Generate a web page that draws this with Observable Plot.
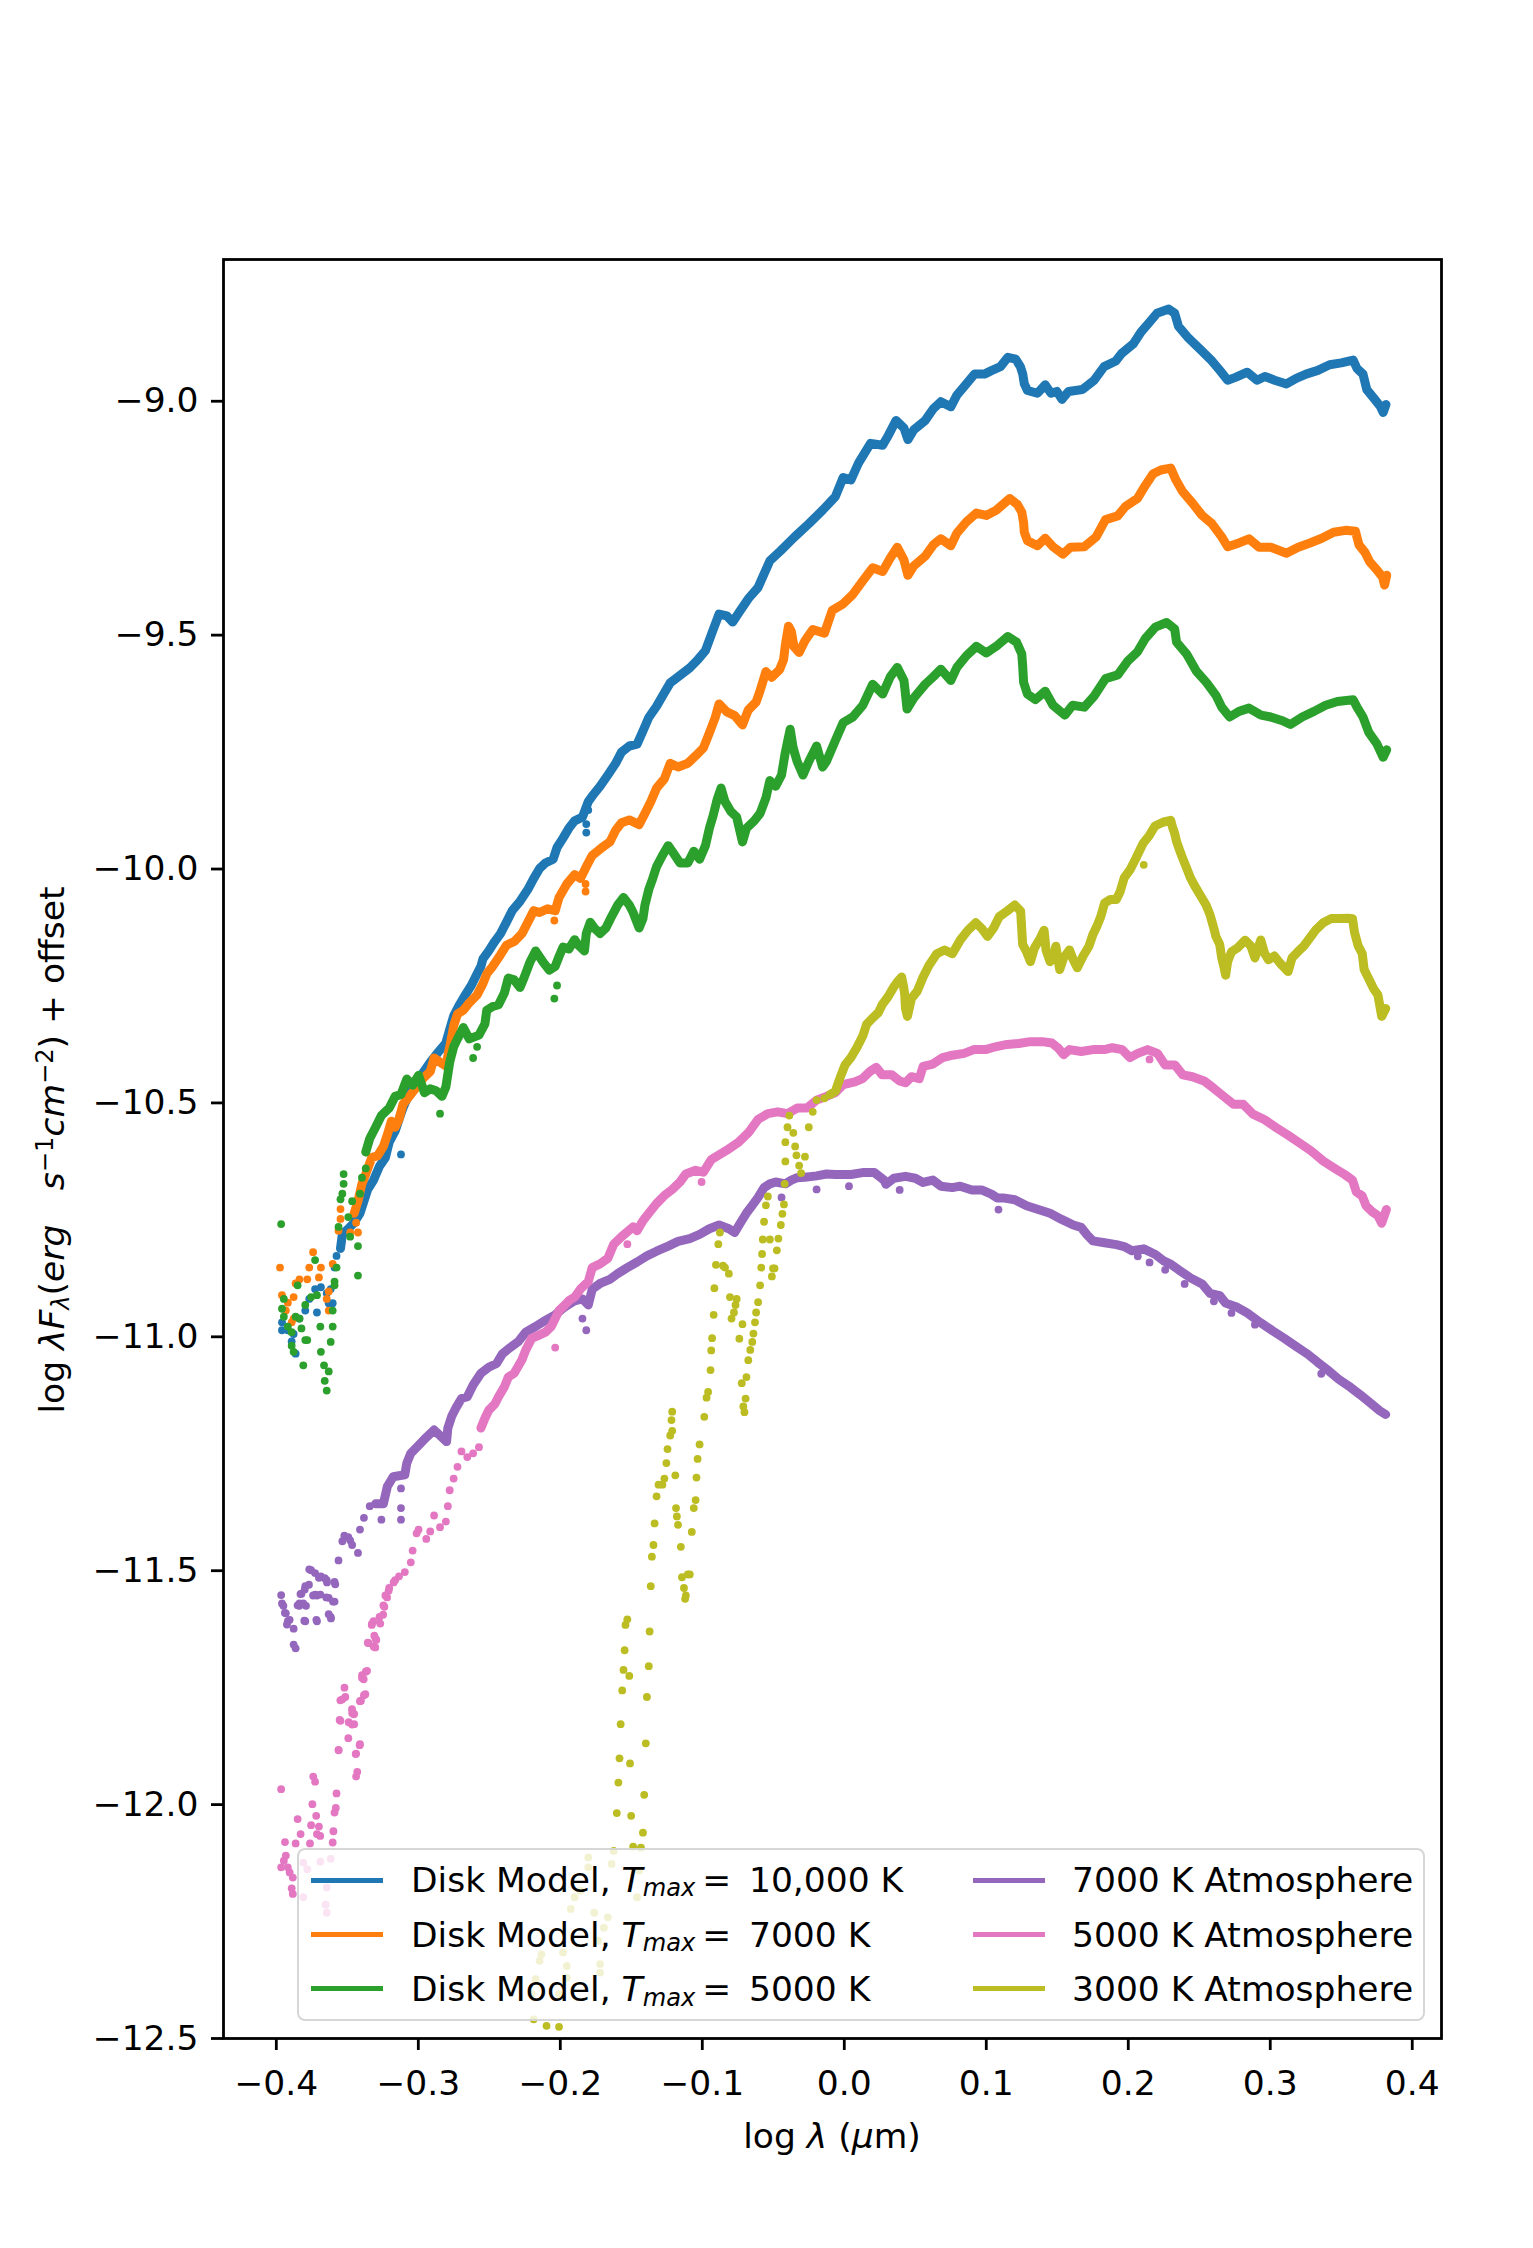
<!DOCTYPE html>
<html><head><meta charset="utf-8">
<script src="https://cdn.jsdelivr.net/npm/d3@7"></script>
<script src="https://cdn.jsdelivr.net/npm/@observablehq/plot@0.6"></script>
<style>
html,body{margin:0;padding:0;background:#fff;}
#wrap{position:relative;width:1533px;height:2248px;font-family:"DejaVu Sans",sans-serif;color:#000;overflow:hidden;}
#wrap svg{position:absolute;left:0;top:0;}
.lbl{position:absolute;font-size:34.5px;line-height:40px;white-space:nowrap;text-align:center;}
.sub{font-size:0.7em;position:relative;top:0.2em;}
.sup{font-size:0.7em;position:relative;top:-0.45em;}
#legend{position:absolute;left:297px;top:1848px;width:1128px;height:173px;box-sizing:border-box;
  background:rgba(255,255,255,0.8);border:2.6px solid rgba(204,204,204,0.8);border-radius:8px;}
.lh{position:absolute;height:5px;width:72px;}
.lt{position:absolute;font-size:34.5px;line-height:40px;white-space:nowrap;}
</style></head><body><div id="wrap"></div>
<script>
// ---- tick values ----
const xTicks = [-0.4,-0.3,-0.2,-0.1,0.0,0.1,0.2,0.3,0.4];
const yTicks = [-12.5,-12.0,-11.5,-11.0,-10.5,-10.0,-9.5,-9.0];
// ---- series names and colours ----
const seriesNames = ["Disk Model, Tmax = 10,000 K","Disk Model, Tmax = 7000 K","Disk Model, Tmax = 5000 K","7000 K Atmosphere","5000 K Atmosphere","3000 K Atmosphere"];
const seriesColors = ["#1f77b4","#ff7f0e","#2ca02c","#9467bd","#e377c2","#bcbd22"];

// ---- Disk Model, Tmax = 10,000 K ----
const blueTrace = [[-0.3548,-10.811],[-0.3535,-10.781],[-0.3493,-10.769],[-0.3452,-10.756],[-0.3411,-10.736],[-0.3383,-10.710],[-0.3356,-10.685],[-0.3315,-10.665],[-0.3273,-10.635],[-0.3232,-10.617],[-0.3205,-10.584],[-0.3163,-10.560],[-0.3136,-10.535],[-0.3108,-10.511],[-0.3067,-10.482],[-0.3026,-10.458],[-0.2971,-10.437],[-0.2916,-10.413],[-0.2861,-10.392],[-0.2806,-10.372],[-0.2779,-10.343],[-0.2751,-10.314],[-0.2710,-10.290],[-0.2669,-10.269],[-0.2627,-10.249],[-0.2586,-10.224],[-0.2559,-10.208],[-0.2545,-10.192],[-0.2504,-10.175],[-0.2462,-10.155],[-0.2421,-10.138],[-0.2380,-10.114],[-0.2339,-10.089],[-0.2284,-10.069],[-0.2229,-10.044],[-0.2187,-10.020],[-0.2146,-9.999],[-0.2105,-9.987],[-0.2050,-9.979],[-0.2023,-9.954],[-0.1981,-9.934],[-0.1940,-9.913],[-0.1899,-9.897],[-0.1844,-9.889],[-0.1803,-9.856],[-0.1775,-9.844],[-0.1720,-9.823],[-0.1665,-9.799],[-0.1610,-9.774],[-0.1569,-9.750],[-0.1514,-9.737],[-0.1459,-9.733],[-0.1418,-9.705],[-0.1377,-9.676],[-0.1322,-9.652],[-0.1267,-9.623],[-0.1226,-9.602],[-0.1157,-9.586],[-0.1088,-9.570],[-0.1033,-9.553],[-0.0978,-9.533],[-0.0923,-9.488],[-0.0882,-9.455],[-0.0827,-9.459],[-0.0786,-9.472],[-0.0731,-9.447],[-0.0676,-9.422],[-0.0607,-9.398],[-0.0524,-9.341],[-0.045,-9.320],[-0.035,-9.290],[-0.025,-9.262],[-0.015,-9.232],[-0.0063,-9.204],[-0.0008,-9.163],[0.0047,-9.168],[0.0102,-9.131],[0.0185,-9.090],[0.027,-9.094],[0.031,-9.073],[0.0365,-9.041],[0.042,-9.057],[0.0448,-9.082],[0.049,-9.061],[0.057,-9.041],[0.0627,-9.016],[0.068,-9.001],[0.075,-9.012],[0.0793,-8.987],[0.0848,-8.967],[0.0917,-8.942],[0.0987,-8.942],[0.104,-8.934],[0.110,-8.926],[0.1152,-8.906],[0.1207,-8.910],[0.124,-8.926],[0.1257,-8.942],[0.1268,-8.963],[0.129,-8.977],[0.136,-8.983],[0.1415,-8.965],[0.1456,-8.983],[0.1497,-8.979],[0.1533,-8.996],[0.158,-8.979],[0.1677,-8.975],[0.176,-8.955],[0.183,-8.926],[0.1912,-8.914],[0.1953,-8.898],[0.2036,-8.877],[0.209,-8.852],[0.2147,-8.832],[0.2202,-8.812],[0.2285,-8.803],[0.2327,-8.812],[0.2354,-8.840],[0.2424,-8.865],[0.2506,-8.889],[0.259,-8.914],[0.2645,-8.934],[0.270,-8.955],[0.2755,-8.949],[0.2838,-8.938],[0.2907,-8.955],[0.2962,-8.947],[0.3031,-8.955],[0.3114,-8.963],[0.3183,-8.951],[0.3252,-8.942],[0.3335,-8.934],[0.3418,-8.922],[0.350,-8.918],[0.3584,-8.912],[0.3611,-8.930],[0.3653,-8.942],[0.368,-8.975],[0.3736,-8.996],[0.3777,-9.012],[0.3795,-9.024],[0.3815,-9.007]];
const blueScatter = [[-0.1803,-9.874],[-0.1817,-9.904],[-0.1817,-9.922],[-0.3122,-10.610],[-0.3576,-10.827],[-0.3590,-10.852],[-0.3617,-10.898],[-0.3631,-10.928],[-0.3603,-10.928],[-0.3645,-10.907],[-0.3686,-10.894],[-0.3714,-10.948],[-0.3727,-10.898],[-0.3768,-10.919],[-0.3796,-10.944],[-0.3837,-10.961],[-0.3878,-10.994],[-0.3919,-10.986],[-0.3960,-10.969],[-0.3960,-10.986],[-0.3864,-11.036],[-0.3892,-11.010]];

// ---- Disk Model, Tmax = 7000 K ----
const orangeTrace = [[-0.3452,-10.736],[-0.3425,-10.710],[-0.3397,-10.673],[-0.3370,-10.652],[-0.3328,-10.617],[-0.3287,-10.613],[-0.3246,-10.593],[-0.3218,-10.568],[-0.3190,-10.539],[-0.3163,-10.552],[-0.3136,-10.535],[-0.3108,-10.503],[-0.3053,-10.482],[-0.3012,-10.466],[-0.2971,-10.449],[-0.2916,-10.433],[-0.2889,-10.404],[-0.2847,-10.413],[-0.2806,-10.421],[-0.2765,-10.359],[-0.2751,-10.335],[-0.2724,-10.310],[-0.2683,-10.302],[-0.2641,-10.286],[-0.2586,-10.269],[-0.2545,-10.245],[-0.2518,-10.224],[-0.2476,-10.208],[-0.2421,-10.183],[-0.2380,-10.163],[-0.2325,-10.155],[-0.2270,-10.138],[-0.2229,-10.114],[-0.2187,-10.089],[-0.2146,-10.093],[-0.2090,-10.085],[-0.2036,-10.089],[-0.2009,-10.061],[-0.1954,-10.032],[-0.1899,-10.012],[-0.1858,-10.020],[-0.1817,-9.995],[-0.1775,-9.971],[-0.1706,-9.954],[-0.1651,-9.942],[-0.1610,-9.917],[-0.1569,-9.901],[-0.1514,-9.895],[-0.1445,-9.905],[-0.1404,-9.881],[-0.1363,-9.856],[-0.1322,-9.827],[-0.1267,-9.807],[-0.1226,-9.774],[-0.1170,-9.782],[-0.1102,-9.774],[-0.1047,-9.758],[-0.0992,-9.741],[-0.0950,-9.709],[-0.0909,-9.676],[-0.0882,-9.647],[-0.0827,-9.664],[-0.0772,-9.672],[-0.0717,-9.692],[-0.0676,-9.660],[-0.0621,-9.643],[-0.0593,-9.619],[-0.0552,-9.578],[-0.0511,-9.590],[-0.0456,-9.574],[-0.0428,-9.553],[-0.0415,-9.521],[-0.0393,-9.481],[-0.0373,-9.492],[-0.0354,-9.525],[-0.0318,-9.537],[-0.0277,-9.512],[-0.0222,-9.488],[-0.0140,-9.496],[-0.0085,-9.447],[-0.0008,-9.433],[0.006,-9.413],[0.013,-9.384],[0.020,-9.356],[0.027,-9.364],[0.0324,-9.335],[0.0373,-9.312],[0.042,-9.339],[0.0448,-9.372],[0.049,-9.352],[0.057,-9.331],[0.0627,-9.307],[0.068,-9.294],[0.075,-9.309],[0.0793,-9.282],[0.086,-9.258],[0.093,-9.239],[0.100,-9.244],[0.107,-9.233],[0.1166,-9.208],[0.122,-9.221],[0.125,-9.237],[0.1263,-9.260],[0.1268,-9.280],[0.129,-9.298],[0.136,-9.309],[0.1415,-9.293],[0.147,-9.311],[0.154,-9.327],[0.1594,-9.312],[0.169,-9.311],[0.1774,-9.290],[0.184,-9.253],[0.1926,-9.245],[0.198,-9.225],[0.2064,-9.208],[0.212,-9.180],[0.2175,-9.155],[0.223,-9.147],[0.2299,-9.143],[0.2335,-9.168],[0.238,-9.192],[0.245,-9.217],[0.252,-9.244],[0.259,-9.262],[0.2658,-9.290],[0.270,-9.311],[0.278,-9.303],[0.285,-9.294],[0.2921,-9.312],[0.3003,-9.312],[0.3114,-9.325],[0.3197,-9.312],[0.328,-9.303],[0.3363,-9.293],[0.3446,-9.280],[0.353,-9.276],[0.360,-9.278],[0.3625,-9.307],[0.3667,-9.323],[0.370,-9.343],[0.375,-9.360],[0.3791,-9.376],[0.3805,-9.393],[0.3820,-9.372]];
const orangeScatter = [[-0.1822,-10.032],[-0.1822,-10.048],[-0.2042,-10.110],[-0.3438,-10.756],[-0.3425,-10.777],[-0.3480,-10.777],[-0.3548,-10.727],[-0.3548,-10.748],[-0.3562,-10.773],[-0.3603,-10.844],[-0.3631,-10.903],[-0.3645,-10.919],[-0.3631,-10.944],[-0.3686,-10.852],[-0.3700,-10.873],[-0.3741,-10.819],[-0.3768,-10.852],[-0.3782,-10.877],[-0.3837,-10.877],[-0.3864,-10.886],[-0.3878,-10.915],[-0.3919,-10.927],[-0.3933,-10.944],[-0.3960,-10.911],[-0.3974,-10.852],[-0.3892,-10.969],[-0.3878,-10.961]];

// ---- Disk Model, Tmax = 5000 K ----
const greenTrace = [[-0.3370,-10.605],[-0.3342,-10.576],[-0.3301,-10.552],[-0.3260,-10.527],[-0.3205,-10.511],[-0.3163,-10.486],[-0.3122,-10.482],[-0.3081,-10.449],[-0.3040,-10.462],[-0.2998,-10.441],[-0.2957,-10.478],[-0.2916,-10.470],[-0.2875,-10.474],[-0.2834,-10.486],[-0.2806,-10.466],[-0.2779,-10.413],[-0.2751,-10.380],[-0.2724,-10.363],[-0.2683,-10.339],[-0.2641,-10.363],[-0.2573,-10.355],[-0.2531,-10.331],[-0.2518,-10.302],[-0.2476,-10.294],[-0.2435,-10.290],[-0.2394,-10.265],[-0.2366,-10.233],[-0.2325,-10.237],[-0.2284,-10.253],[-0.2256,-10.233],[-0.2215,-10.200],[-0.2174,-10.175],[-0.2119,-10.200],[-0.2078,-10.216],[-0.2036,-10.208],[-0.2009,-10.187],[-0.1981,-10.167],[-0.1940,-10.171],[-0.1899,-10.151],[-0.1872,-10.163],[-0.1830,-10.175],[-0.1817,-10.138],[-0.1789,-10.114],[-0.1761,-10.126],[-0.1720,-10.138],[-0.1679,-10.126],[-0.1638,-10.101],[-0.1596,-10.077],[-0.1555,-10.061],[-0.1514,-10.077],[-0.1487,-10.093],[-0.1445,-10.126],[-0.1418,-10.106],[-0.1404,-10.077],[-0.1377,-10.044],[-0.1349,-10.020],[-0.1322,-9.995],[-0.1281,-9.971],[-0.1240,-9.950],[-0.1212,-9.962],[-0.1157,-9.987],[-0.1102,-9.987],[-0.1060,-9.962],[-0.1019,-9.979],[-0.0978,-9.950],[-0.0950,-9.913],[-0.0923,-9.885],[-0.0896,-9.852],[-0.0868,-9.827],[-0.0840,-9.856],[-0.0799,-9.877],[-0.0758,-9.889],[-0.0717,-9.942],[-0.0689,-9.913],[-0.0634,-9.897],[-0.0593,-9.881],[-0.0552,-9.848],[-0.0524,-9.811],[-0.0483,-9.823],[-0.0442,-9.799],[-0.0415,-9.750],[-0.0381,-9.701],[-0.0360,-9.741],[-0.0332,-9.770],[-0.0291,-9.799],[-0.0250,-9.770],[-0.0195,-9.737],[-0.0153,-9.782],[-0.0126,-9.770],[-0.0063,-9.725],[-0.0008,-9.687],[0.006,-9.675],[0.013,-9.650],[0.020,-9.605],[0.027,-9.626],[0.0324,-9.589],[0.0373,-9.569],[0.042,-9.597],[0.0428,-9.618],[0.0442,-9.658],[0.049,-9.634],[0.057,-9.605],[0.0627,-9.589],[0.068,-9.573],[0.075,-9.597],[0.0793,-9.569],[0.086,-9.544],[0.093,-9.524],[0.100,-9.538],[0.107,-9.524],[0.1152,-9.503],[0.1213,-9.515],[0.125,-9.540],[0.1257,-9.569],[0.1263,-9.601],[0.129,-9.626],[0.1346,-9.638],[0.1415,-9.620],[0.147,-9.650],[0.1553,-9.671],[0.1608,-9.650],[0.169,-9.654],[0.176,-9.630],[0.184,-9.593],[0.1926,-9.585],[0.1995,-9.556],[0.2064,-9.536],[0.212,-9.507],[0.219,-9.483],[0.227,-9.473],[0.2327,-9.487],[0.234,-9.515],[0.241,-9.540],[0.248,-9.577],[0.255,-9.601],[0.262,-9.630],[0.2658,-9.654],[0.2714,-9.675],[0.278,-9.663],[0.285,-9.656],[0.2935,-9.671],[0.3003,-9.675],[0.3086,-9.683],[0.3142,-9.691],[0.3225,-9.675],[0.3308,-9.663],[0.339,-9.650],[0.3473,-9.642],[0.3584,-9.638],[0.3611,-9.654],[0.3653,-9.675],[0.3694,-9.708],[0.375,-9.732],[0.3795,-9.761],[0.3820,-9.745]];
const greenScatter = [[-0.2023,-10.249],[-0.2042,-10.277],[-0.2586,-10.380],[-0.2614,-10.404],[-0.2792,-10.429],[-0.2847,-10.523],[-0.3370,-10.640],[-0.3397,-10.660],[-0.3411,-10.694],[-0.3466,-10.710],[-0.3493,-10.744],[-0.3480,-10.786],[-0.3425,-10.806],[-0.3425,-10.869],[-0.3526,-10.652],[-0.3526,-10.673],[-0.3535,-10.694],[-0.3548,-10.706],[-0.3562,-10.765],[-0.3576,-10.852],[-0.3590,-10.882],[-0.3590,-10.890],[-0.3603,-10.944],[-0.3603,-10.978],[-0.3617,-11.011],[-0.3631,-11.074],[-0.3645,-11.115],[-0.3659,-11.094],[-0.3664,-11.061],[-0.3686,-11.032],[-0.3690,-10.978],[-0.3714,-10.911],[-0.3727,-10.836],[-0.3755,-10.915],[-0.3782,-11.007],[-0.3796,-11.007],[-0.3810,-11.061],[-0.3823,-10.982],[-0.3837,-10.961],[-0.3850,-10.890],[-0.3864,-10.957],[-0.3892,-10.990],[-0.3892,-11.019],[-0.3878,-11.032],[-0.3919,-10.978],[-0.3947,-10.919],[-0.3960,-10.940],[-0.3947,-10.957],[-0.3966,-10.759],[-0.3796,-10.932]];

// ---- 7000 K Atmosphere ----
const purpleTrace = [[-0.3301,-11.357],[-0.3246,-11.357],[-0.3218,-11.320],[-0.3177,-11.299],[-0.3095,-11.295],[-0.3081,-11.270],[-0.3053,-11.249],[-0.2998,-11.232],[-0.2944,-11.215],[-0.2889,-11.199],[-0.2847,-11.211],[-0.2801,-11.224],[-0.2792,-11.195],[-0.2765,-11.170],[-0.2737,-11.153],[-0.2696,-11.132],[-0.2655,-11.128],[-0.2614,-11.103],[-0.2559,-11.078],[-0.2504,-11.065],[-0.2449,-11.057],[-0.2407,-11.036],[-0.2353,-11.023],[-0.2298,-11.011],[-0.2243,-10.990],[-0.2174,-10.978],[-0.2105,-10.965],[-0.2036,-10.953],[-0.1968,-10.936],[-0.1899,-10.923],[-0.1844,-10.919],[-0.1803,-10.932],[-0.1775,-10.898],[-0.1720,-10.886],[-0.1651,-10.877],[-0.1596,-10.865],[-0.1528,-10.852],[-0.1459,-10.840],[-0.1390,-10.827],[-0.1322,-10.817],[-0.1240,-10.806],[-0.1171,-10.796],[-0.1088,-10.790],[-0.1019,-10.781],[-0.0950,-10.769],[-0.0882,-10.761],[-0.0813,-10.769],[-0.0772,-10.777],[-0.0731,-10.756],[-0.0690,-10.736],[-0.0648,-10.719],[-0.0607,-10.702],[-0.0565,-10.681],[-0.0524,-10.673],[-0.0483,-10.669],[-0.0415,-10.673],[-0.0373,-10.665],[-0.0332,-10.660],[-0.0277,-10.659],[-0.0195,-10.656],[-0.0126,-10.652],[-0.0063,-10.653],[0.0047,-10.653],[0.0129,-10.649],[0.0212,-10.649],[0.0280,-10.665],[0.0294,-10.674],[0.0349,-10.661],[0.0431,-10.657],[0.0500,-10.661],[0.0555,-10.670],[0.0624,-10.665],[0.0680,-10.678],[0.0761,-10.681],[0.0816,-10.678],[0.0899,-10.686],[0.0967,-10.686],[0.1036,-10.695],[0.1077,-10.703],[0.1119,-10.703],[0.1201,-10.707],[0.1284,-10.720],[0.1366,-10.728],[0.1449,-10.736],[0.1531,-10.749],[0.1613,-10.761],[0.1668,-10.766],[0.1710,-10.782],[0.1751,-10.795],[0.1833,-10.799],[0.1916,-10.803],[0.1971,-10.807],[0.2026,-10.816],[0.2109,-10.812],[0.2191,-10.824],[0.2246,-10.837],[0.2301,-10.845],[0.2356,-10.857],[0.2438,-10.874],[0.2520,-10.887],[0.2576,-10.907],[0.2644,-10.912],[0.2686,-10.928],[0.2768,-10.937],[0.2837,-10.949],[0.2933,-10.970],[0.3016,-10.987],[0.3098,-11.003],[0.3180,-11.020],[0.3263,-11.037],[0.3332,-11.054],[0.3400,-11.070],[0.3483,-11.091],[0.3565,-11.108],[0.3634,-11.124],[0.3703,-11.141],[0.3771,-11.158],[0.3813,-11.166]];
const purpleScatter = [[-0.1844,-10.961],[-0.1817,-10.986],[-0.0442,-10.702],[-0.0195,-10.685],[0.0033,-10.678],[0.0390,-10.686],[0.1086,-10.728],[0.2067,-10.828],[0.2150,-10.841],[0.2260,-10.857],[0.2397,-10.887],[0.2603,-10.924],[0.2727,-10.949],[0.2892,-10.974],[0.3359,-11.079],[-0.3966,-11.552],[-0.3960,-11.570],[-0.3950,-11.575],[-0.3940,-11.590],[-0.3933,-11.591],[-0.3925,-11.615],[-0.3919,-11.608],[-0.3906,-11.605],[-0.3878,-11.624],[-0.3878,-11.658],[-0.3864,-11.666],[-0.3850,-11.574],[-0.3838,-11.575],[-0.3837,-11.570],[-0.3830,-11.550],[-0.3823,-11.549],[-0.3810,-11.570],[-0.3803,-11.607],[-0.3800,-11.540],[-0.3796,-11.533],[-0.3791,-11.575],[-0.3770,-11.530],[-0.3768,-11.497],[-0.3755,-11.499],[-0.3741,-11.553],[-0.3727,-11.505],[-0.3725,-11.551],[-0.3718,-11.605],[-0.3714,-11.553],[-0.3700,-11.515],[-0.3690,-11.551],[-0.3796,-11.608],[-0.3714,-11.608],[-0.3686,-11.512],[-0.3659,-11.516],[-0.3648,-11.557],[-0.3645,-11.520],[-0.3643,-11.525],[-0.3631,-11.558],[-0.3631,-11.593],[-0.3617,-11.599],[-0.3615,-11.602],[-0.3601,-11.566],[-0.3590,-11.566],[-0.3590,-11.524],[-0.3585,-11.529],[-0.3562,-11.478],[-0.3535,-11.437],[-0.3521,-11.425],[-0.3493,-11.428],[-0.3480,-11.435],[-0.3466,-11.445],[-0.3425,-11.462],[-0.3411,-11.412],[-0.3383,-11.387],[-0.3342,-11.362],[-0.3260,-11.391],[-0.3122,-11.324],[-0.3122,-11.366],[-0.3122,-11.391]];

// ---- 5000 K Atmosphere ----
const pinkTrace = [[-0.2559,-11.195],[-0.2531,-11.174],[-0.2504,-11.157],[-0.2462,-11.144],[-0.2435,-11.128],[-0.2394,-11.107],[-0.2366,-11.086],[-0.2325,-11.078],[-0.2270,-11.049],[-0.2243,-11.028],[-0.2201,-11.003],[-0.2160,-10.998],[-0.2105,-10.990],[-0.2064,-10.978],[-0.2036,-10.961],[-0.2009,-10.944],[-0.1981,-10.936],[-0.1940,-10.923],[-0.1899,-10.915],[-0.1858,-10.898],[-0.1803,-10.882],[-0.1775,-10.852],[-0.1720,-10.844],[-0.1665,-10.832],[-0.1624,-10.802],[-0.1569,-10.786],[-0.1487,-10.765],[-0.1459,-10.773],[-0.1418,-10.752],[-0.1377,-10.736],[-0.1322,-10.715],[-0.1267,-10.698],[-0.1212,-10.685],[-0.1157,-10.669],[-0.1116,-10.652],[-0.1047,-10.644],[-0.0992,-10.648],[-0.0937,-10.621],[-0.0827,-10.601],[-0.0745,-10.584],[-0.0676,-10.564],[-0.0607,-10.535],[-0.0538,-10.523],[-0.0469,-10.519],[-0.0400,-10.523],[-0.0332,-10.511],[-0.0263,-10.511],[-0.0195,-10.494],[-0.0126,-10.486],[-0.0063,-10.478],[-0.0008,-10.461],[0.0074,-10.455],[0.0129,-10.448],[0.0184,-10.432],[0.0225,-10.424],[0.0267,-10.440],[0.0335,-10.440],[0.0390,-10.453],[0.0431,-10.457],[0.0473,-10.444],[0.0528,-10.448],[0.0555,-10.422],[0.0624,-10.417],[0.0693,-10.403],[0.0761,-10.398],[0.0844,-10.394],[0.0912,-10.386],[0.0995,-10.386],[0.1064,-10.380],[0.1146,-10.375],[0.1229,-10.373],[0.1311,-10.369],[0.1394,-10.369],[0.1462,-10.372],[0.1504,-10.382],[0.1545,-10.397],[0.1586,-10.386],[0.1669,-10.390],[0.1751,-10.386],[0.1833,-10.386],[0.1888,-10.382],[0.1957,-10.386],[0.2012,-10.403],[0.2067,-10.394],[0.2136,-10.386],[0.2205,-10.394],[0.2260,-10.419],[0.2329,-10.419],[0.2384,-10.440],[0.2452,-10.444],[0.2534,-10.453],[0.2603,-10.469],[0.2672,-10.486],[0.2741,-10.503],[0.2810,-10.503],[0.2878,-10.524],[0.2961,-10.536],[0.3043,-10.553],[0.3126,-10.569],[0.3208,-10.586],[0.3290,-10.603],[0.3373,-10.624],[0.3455,-10.640],[0.3524,-10.653],[0.3579,-10.665],[0.3606,-10.690],[0.3648,-10.699],[0.3675,-10.720],[0.3716,-10.732],[0.3758,-10.741],[0.3785,-10.757],[0.3818,-10.728]];
const pinkScatter = [[-0.2036,-11.023],[-0.1528,-10.802],[-0.1005,-10.669],[0.2150,-10.407],[-0.2573,-11.236],[-0.2614,-11.249],[-0.2655,-11.257],[-0.2696,-11.245],[-0.2724,-11.278],[-0.2751,-11.303],[-0.2779,-11.328],[-0.2792,-11.362],[-0.2806,-11.395],[-0.2847,-11.407],[-0.2889,-11.382],[-0.2916,-11.416],[-0.2944,-11.432],[-0.2998,-11.412],[-0.3012,-11.420],[-0.3040,-11.457],[-0.3053,-11.482],[-0.3095,-11.503],[-0.3136,-11.512],[-0.3163,-11.520],[-0.3174,-11.525],[-0.3205,-11.537],[-0.3209,-11.543],[-0.3220,-11.557],[-0.3232,-11.553],[-0.3239,-11.577],[-0.3246,-11.574],[-0.3248,-11.594],[-0.3268,-11.613],[-0.3273,-11.599],[-0.3315,-11.608],[-0.3326,-11.613],[-0.3328,-11.616],[-0.3310,-11.639],[-0.3296,-11.648],[-0.3301,-11.645],[-0.3303,-11.664],[-0.3315,-11.662],[-0.3350,-11.655],[-0.3356,-11.654],[-0.3361,-11.714],[-0.3370,-11.716],[-0.3396,-11.723],[-0.3385,-11.732],[-0.3397,-11.729],[-0.3373,-11.764],[-0.3383,-11.766],[-0.3404,-11.778],[-0.3411,-11.779],[-0.3467,-11.796],[-0.3455,-11.807],[-0.3466,-11.804],[-0.3466,-11.829],[-0.3520,-11.750],[-0.3514,-11.770],[-0.3535,-11.775],[-0.3549,-11.777],[-0.3554,-11.819],[-0.3548,-11.821],[-0.3490,-11.824],[-0.3493,-11.858],[-0.3562,-11.883],[-0.3561,-11.884],[-0.3438,-11.891],[-0.3441,-11.892],[-0.3411,-11.871],[-0.3413,-11.873],[-0.3452,-11.806],[-0.3452,-11.828],[-0.3430,-11.930],[-0.3438,-11.940],[-0.3740,-11.940],[-0.3727,-11.951],[-0.3966,-11.967],[-0.3576,-11.976],[-0.3746,-11.999],[-0.3581,-12.007],[-0.3590,-12.017],[-0.3850,-12.031],[-0.3719,-12.024],[-0.3755,-12.044],[-0.3700,-12.047],[-0.3829,-12.063],[-0.3714,-12.063],[-0.3691,-12.067],[-0.3598,-12.057],[-0.3603,-12.081],[-0.3939,-12.080],[-0.3864,-12.083],[-0.3763,-12.083],[-0.3933,-12.109],[-0.3947,-12.120],[-0.3966,-12.134],[-0.3919,-12.134],[-0.3906,-12.145],[-0.3884,-12.156],[-0.3892,-12.179],[-0.3884,-12.191],[-0.3810,-12.124],[-0.3782,-12.138],[-0.3690,-12.122],[-0.3617,-12.116],[-0.3645,-12.177],[-0.3810,-12.198],[-0.3653,-12.214],[-0.3645,-12.231]];

// ---- 3000 K Atmosphere ----
const yellowTrace = [[-0.0099,-10.482],[-0.0063,-10.475],[-0.0022,-10.440],[0.0005,-10.419],[0.0047,-10.403],[0.0088,-10.382],[0.0130,-10.357],[0.0157,-10.332],[0.0198,-10.319],[0.0240,-10.307],[0.0267,-10.290],[0.0308,-10.273],[0.0349,-10.252],[0.0377,-10.240],[0.0404,-10.231],[0.0418,-10.252],[0.0426,-10.269],[0.0431,-10.298],[0.0445,-10.315],[0.0473,-10.277],[0.0514,-10.261],[0.0555,-10.231],[0.0596,-10.206],[0.0651,-10.181],[0.0706,-10.173],[0.0761,-10.181],[0.0816,-10.152],[0.0871,-10.131],[0.0926,-10.115],[0.0968,-10.127],[0.1009,-10.144],[0.1050,-10.127],[0.1091,-10.102],[0.1146,-10.090],[0.1201,-10.077],[0.1242,-10.090],[0.1256,-10.161],[0.1284,-10.177],[0.1311,-10.198],[0.1339,-10.169],[0.1380,-10.148],[0.1407,-10.131],[0.1421,-10.173],[0.1449,-10.198],[0.1476,-10.186],[0.1490,-10.165],[0.1517,-10.215],[0.1545,-10.190],[0.1586,-10.173],[0.1613,-10.194],[0.1641,-10.211],[0.1682,-10.186],[0.1723,-10.165],[0.1751,-10.140],[0.1778,-10.123],[0.1806,-10.102],[0.1833,-10.073],[0.1875,-10.065],[0.1916,-10.065],[0.1943,-10.048],[0.1971,-10.019],[0.2012,-10.002],[0.2054,-9.977],[0.2081,-9.960],[0.2105,-9.945],[0.2147,-9.929],[0.2188,-9.908],[0.2244,-9.900],[0.2299,-9.896],[0.2313,-9.912],[0.2327,-9.924],[0.2340,-9.941],[0.2368,-9.965],[0.2383,-9.977],[0.2411,-9.998],[0.2438,-10.019],[0.2466,-10.035],[0.2507,-10.056],[0.2548,-10.077],[0.2576,-10.098],[0.2603,-10.127],[0.2617,-10.144],[0.2644,-10.161],[0.2658,-10.190],[0.2672,-10.207],[0.2686,-10.227],[0.2700,-10.198],[0.2727,-10.177],[0.2768,-10.169],[0.2823,-10.152],[0.2864,-10.165],[0.2892,-10.190],[0.2933,-10.152],[0.2961,-10.181],[0.2988,-10.194],[0.3029,-10.186],[0.3071,-10.202],[0.3126,-10.219],[0.3153,-10.190],[0.3194,-10.177],[0.3235,-10.165],[0.3277,-10.148],[0.3318,-10.131],[0.3373,-10.115],[0.3428,-10.106],[0.3483,-10.106],[0.3552,-10.105],[0.3579,-10.106],[0.3593,-10.135],[0.3620,-10.165],[0.3648,-10.181],[0.3661,-10.215],[0.3689,-10.232],[0.3730,-10.257],[0.3758,-10.269],[0.3785,-10.315],[0.3813,-10.298]];
const yellowScatter = [[0.1251,-10.119],[0.2109,-9.991],[-0.2201,-12.405],[-0.2188,-12.459],[-0.2174,-12.373],[-0.2146,-12.334],[-0.2133,-12.320],[-0.2097,-12.473],[-0.2009,-12.475],[-0.2009,-12.405],[-0.1981,-12.316],[-0.1954,-12.345],[-0.1954,-12.370],[-0.1926,-12.223],[-0.1899,-12.198],[-0.1858,-12.184],[-0.1803,-12.113],[-0.1803,-12.134],[-0.1761,-12.231],[-0.1734,-12.291],[-0.1720,-12.341],[-0.1720,-12.359],[-0.1693,-12.263],[-0.1665,-12.241],[-0.1638,-12.127],[-0.1624,-12.099],[-0.1602,-12.018],[-0.1591,-11.953],[-0.1583,-11.901],[-0.1575,-11.828],[-0.1564,-11.756],[-0.1555,-11.712],[-0.1547,-11.670],[-0.1541,-11.616],[-0.1528,-11.604],[-0.1514,-11.725],[-0.1509,-11.912],[-0.1501,-12.024],[-0.1487,-12.090],[-0.1459,-12.198],[-0.1445,-12.141],[-0.1432,-12.092],[-0.1418,-12.060],[-0.1409,-11.979],[-0.1398,-11.869],[-0.1390,-11.770],[-0.1377,-11.704],[-0.1371,-11.630],[-0.1363,-11.533],[-0.1355,-11.470],[-0.1344,-11.445],[-0.1336,-11.399],[-0.1322,-11.341],[-0.1308,-11.316],[-0.1281,-11.316],[-0.1267,-11.303],[-0.1253,-11.270],[-0.1245,-11.240],[-0.1226,-11.211],[-0.1212,-11.201],[-0.1217,-11.178],[-0.1212,-11.160],[-0.1190,-11.296],[-0.1185,-11.366],[-0.1179,-11.384],[-0.1171,-11.402],[-0.1151,-11.449],[-0.1143,-11.514],[-0.1129,-11.537],[-0.1116,-11.553],[-0.1121,-11.560],[-0.1102,-11.508],[-0.1088,-11.508],[-0.1074,-11.417],[-0.1060,-11.366],[-0.1047,-11.349],[-0.1041,-11.301],[-0.1033,-11.261],[-0.1019,-11.230],[-0.0986,-11.171],[-0.0970,-11.130],[-0.0959,-11.118],[-0.0942,-11.071],[-0.0937,-11.029],[-0.0931,-11.003],[-0.0920,-10.953],[-0.0915,-10.896],[-0.0904,-10.846],[-0.0887,-10.802],[-0.0876,-10.777],[-0.0854,-10.848],[-0.0840,-10.852],[-0.0813,-10.865],[-0.0805,-10.915],[-0.0758,-10.919],[-0.0766,-10.932],[-0.0777,-10.948],[-0.0794,-10.961],[-0.0739,-11.004],[-0.0717,-10.973],[-0.0722,-11.099],[-0.0711,-11.149],[-0.0703,-11.161],[-0.0695,-11.132],[-0.0689,-11.086],[-0.0676,-11.050],[-0.0662,-11.028],[-0.0648,-11.011],[-0.0640,-10.993],[-0.0629,-10.969],[-0.0621,-10.948],[-0.0607,-10.926],[-0.0593,-10.890],[-0.0585,-10.852],[-0.0579,-10.823],[-0.0574,-10.792],[-0.0565,-10.754],[-0.0552,-10.719],[-0.0538,-10.700],[-0.0524,-10.792],[-0.0510,-10.871],[-0.0502,-10.854],[-0.0491,-10.854],[-0.0475,-10.815],[-0.0464,-10.790],[-0.0447,-10.761],[-0.0436,-10.737],[-0.0425,-10.717],[-0.0420,-10.673],[-0.0415,-10.625],[-0.0415,-10.584],[-0.0400,-10.552],[-0.0387,-10.527],[-0.0359,-10.564],[-0.0346,-10.593],[-0.0337,-10.612],[-0.0318,-10.634],[-0.0304,-10.650],[-0.0277,-10.615],[-0.0250,-10.552],[-0.0222,-10.519],[-0.0195,-10.494],[-0.0140,-10.490]];

const traces = [blueTrace, orangeTrace, greenTrace, purpleTrace, pinkTrace, yellowTrace];
const scatters = [blueScatter, orangeScatter, greenScatter, purpleScatter, pinkScatter, yellowScatter];

const px = d => d[0], py = d => d[1];
const marks = [];
traces.forEach((tr, i) => {
  const c = seriesColors[i];
  marks.push(Plot.line(tr, {x: px, y: py, stroke: c, strokeWidth: 9, strokeLinejoin: "round", strokeLinecap: "round", clip: true}));
  marks.push(Plot.dot(scatters[i], {x: px, y: py, r: 3.9, fill: c, stroke: "none", clip: true}));
});

const fmt = d3.format(".1f");
const chart = Plot.plot({
  width: 1533, height: 2248,
  marginLeft: 223, marginRight: 92, marginTop: 259, marginBottom: 210,
  style: {fontFamily: "DejaVu Sans", fontSize: "34.5px", background: "white", color: "black", overflow: "visible"},
  x: {type: "linear", domain: [-0.4372, 0.4206]},
  y: {type: "linear", domain: [-12.5, -8.697]},
  marks: [
    ...marks,
    Plot.frame({stroke: "black", strokeWidth: 2.8}),
    Plot.axisX({ticks: xTicks, tickFormat: fmt, tickSize: 12, tickPadding: 20, strokeWidth: 2.8, fontSize: 34.5, label: null}),
    Plot.axisY({ticks: yTicks, tickFormat: fmt, tickSize: 12, tickPadding: 13, strokeWidth: 2.8, fontSize: 34.5, label: null})
  ]
});
const wrap = document.getElementById("wrap");
wrap.appendChild(chart);

// axis labels
const xl = document.createElement("div");
xl.className = "lbl";
xl.style.left = (832 - 400) + "px"; xl.style.width = "800px"; xl.style.top = "2116px";
xl.innerHTML = 'log <i>λ</i> (<i>μ</i>m)';
wrap.appendChild(xl);

const yl = document.createElement("div");
yl.className = "lbl";
yl.style.width = "900px"; yl.style.height = "40px";
yl.style.left = (52 - 450) + "px"; yl.style.top = (1150 - 20) + "px";
yl.style.transform = "rotate(-90deg)"; yl.style.transformOrigin = "50% 50%";
yl.innerHTML = 'log <i>λF</i><span class="sub"><i>λ</i></span>(<i>erg</i>&ensp;&ensp;<i>s</i><span class="sup">−1</span><i>cm</i><span class="sup">−2</span>) + offset';
wrap.appendChild(yl);

// legend
const lg = document.createElement("div");
lg.id = "legend";
wrap.appendChild(lg);
const legendLabels = [
  'Disk Model, <i>T</i><span class="sub"><i>max</i></span>&thinsp;=&thinsp; 10,000 K',
  'Disk Model, <i>T</i><span class="sub"><i>max</i></span>&thinsp;=&thinsp; 7000 K',
  'Disk Model, <i>T</i><span class="sub"><i>max</i></span>&thinsp;=&thinsp; 5000 K',
  '7000 K Atmosphere','5000 K Atmosphere','3000 K Atmosphere'
];
const rowLineY = [1878.5, 1932.5, 1986.5];
const rowBase = [1889.5, 1944.5, 1999];
const colLineX = [309, 971];
const colTextX = [409, 1070];
legendLabels.forEach((html, i) => {
  const col = i < 3 ? 0 : 1, row = i % 3;
  const h = document.createElement("div");
  h.className = "lh";
  h.style.background = seriesColors[i];
  h.style.left = (colLineX[col] - 297) + "px";
  h.style.top = (rowLineY[row] - 2.5 - 1848) + "px";
  lg.appendChild(h);
  const t = document.createElement("div");
  t.className = "lt";
  t.style.left = (colTextX[col] - 297) + "px";
  t.style.top = (rowBase[row] - 32 - 1848) + "px";
  t.innerHTML = html;
  lg.appendChild(t);
});
</script></body></html>
